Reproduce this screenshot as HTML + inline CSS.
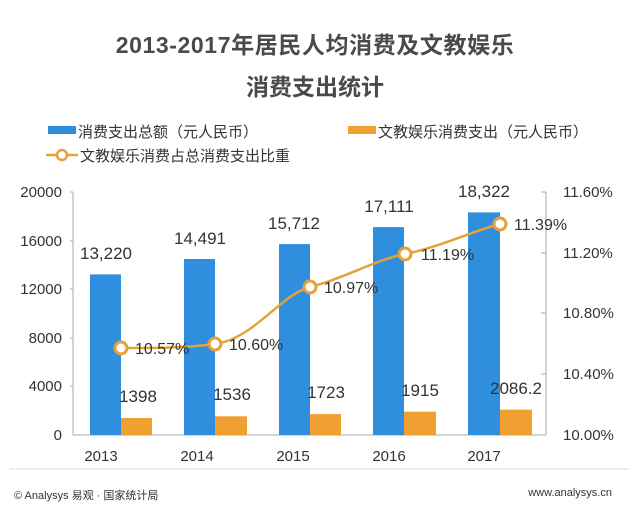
<!DOCTYPE html>
<html><head><meta charset="utf-8"><style>
body{margin:0;background:#fff;}
svg{display:block;font-family:"Liberation Sans","Noto Sans CJK SC",sans-serif;}
</style></head><body>
<svg width="640" height="506" viewBox="0 0 640 506">
<rect width="640" height="506" fill="#fff"/>
<text x="315" y="53" text-anchor="middle" font-size="23" font-weight="bold" fill="#4a4a4a" letter-spacing="0.6">2013-2017年居民人均消费及文教娱乐</text>
<text x="315" y="95" text-anchor="middle" font-size="23" font-weight="bold" fill="#4a4a4a">消费支出统计</text>
<!-- legend -->
<rect x="48" y="126" width="28" height="8" fill="#2f8ede"/>
<text x="78" y="137" font-size="15" fill="#333">消费支出总额（元人民币）</text>
<rect x="348" y="126" width="28" height="8" fill="#f0a030"/>
<text x="378" y="137" font-size="15" fill="#333">文教娱乐消费支出（元人民币）</text>
<line x1="46" y1="155" x2="78" y2="155" stroke="#e3a23a" stroke-width="2.5"/>
<circle cx="62" cy="155" r="5" fill="#fff" stroke="#e3a23a" stroke-width="2.5"/>
<text x="80" y="161" font-size="15" fill="#333">文教娱乐消费占总消费支出比重</text>
<!-- axes -->
<g stroke="#aaa" stroke-width="1">
<line x1="73" y1="192" x2="73" y2="435"/>
<line x1="73" y1="435" x2="546" y2="435"/>
<line x1="546" y1="192" x2="546" y2="435"/>
<line x1="70" y1="192" x2="73" y2="192"/><line x1="70" y1="241" x2="73" y2="241"/><line x1="70" y1="289" x2="73" y2="289"/><line x1="70" y1="338" x2="73" y2="338"/><line x1="70" y1="386" x2="73" y2="386"/>
<line x1="541" y1="192" x2="546" y2="192"/><line x1="541" y1="253" x2="546" y2="253"/><line x1="541" y1="313" x2="546" y2="313"/><line x1="541" y1="374" x2="546" y2="374"/>
</g>
<g font-size="15" fill="#333" text-anchor="end">
<text x="62" y="197">20000</text><text x="62" y="246">16000</text><text x="62" y="294">12000</text><text x="62" y="343">8000</text><text x="62" y="391">4000</text><text x="62" y="440">0</text>
</g>
<g font-size="15" fill="#333">
<text x="563" y="197">11.60%</text><text x="563" y="258">11.20%</text><text x="563" y="318">10.80%</text><text x="563" y="379">10.40%</text><text x="563" y="440">10.00%</text>
</g>
<!-- bars -->
<g fill="#2f8ede">
<rect x="90" y="274.4" width="31" height="160.6"/>
<rect x="184" y="259" width="31" height="176"/>
<rect x="279" y="244.1" width="31" height="190.9"/>
<rect x="373" y="227.1" width="31" height="207.9"/>
<rect x="468" y="212.4" width="32" height="222.6"/>
</g>
<g fill="#f0a030">
<rect x="121" y="418" width="31" height="17"/>
<rect x="215" y="416.3" width="32" height="18.7"/>
<rect x="310" y="414.1" width="31" height="20.9"/>
<rect x="404" y="411.7" width="32" height="23.3"/>
<rect x="500" y="409.7" width="32" height="25.3"/>
</g>
<g font-size="17" fill="#333" text-anchor="middle">
<text x="106" y="259">13,220</text><text x="200" y="244">14,491</text><text x="294" y="229">15,712</text><text x="389" y="212">17,111</text><text x="484" y="197">18,322</text>
<text x="138" y="402">1398</text><text x="232" y="400">1536</text><text x="326" y="398">1723</text><text x="420" y="396">1915</text><text x="516" y="394">2086.2</text>
</g>
<path d="M121,348 C160,348 185,348 215,344 C255,338 280,295 310,287 C345,278 375,260 405,254 C440,247 470,232 500,224" fill="none" stroke="#e3a23a" stroke-width="2.5"/>
<g fill="#fff" stroke="#e3a23a" stroke-width="3">
<circle cx="121" cy="348" r="6"/><circle cx="215" cy="344" r="6"/><circle cx="310" cy="287" r="6"/><circle cx="405" cy="254" r="6"/><circle cx="500" cy="224" r="6"/>
</g>
<g font-size="16" fill="#333">
<text x="135" y="354">10.57%</text><text x="229" y="350">10.60%</text><text x="324" y="293">10.97%</text><text x="421" y="260">11.19%</text><text x="514" y="230">11.39%</text>
</g>
<g font-size="15" fill="#333" text-anchor="middle">
<text x="101" y="461">2013</text><text x="197" y="461">2014</text><text x="293" y="461">2015</text><text x="389" y="461">2016</text><text x="484" y="461">2017</text>
</g>
<line x1="10" y1="469" x2="630" y2="469" stroke="#bbb" stroke-dasharray="1,1"/>
<text x="14" y="499" font-size="11" fill="#333">© Analysys 易观 · 国家统计局</text>
<text x="612" y="496" font-size="11" fill="#333" text-anchor="end">www.analysys.cn</text>
</svg>
</body></html>
